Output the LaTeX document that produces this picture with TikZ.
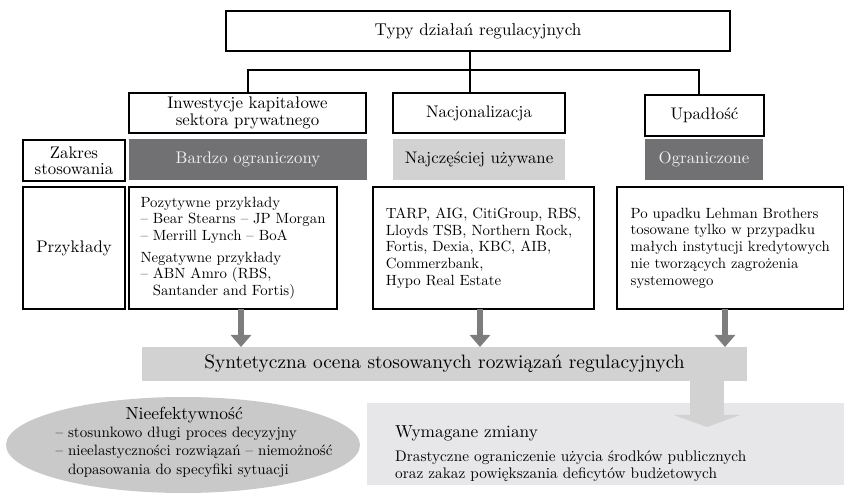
\documentclass[tikz,border=0pt]{standalone}
\usepackage{fontspec}
\setmainfont{lmroman10-regular.otf}
\usetikzlibrary{arrows.meta,shapes.geometric}
\definecolor{darkbox}{RGB}{113,113,116}
\definecolor{lightbox}{RGB}{210,210,210}
\definecolor{bandgray}{RGB}{210,210,210}
\definecolor{wymgray}{RGB}{231,231,233}
\definecolor{ellgray}{RGB}{201,201,201}
\definecolor{arrowgray}{RGB}{125,125,125}
\newcommand{\fsTitle}{\fontsize{17.1}{20}\selectfont}
\newcommand{\fsHead}{\fontsize{16.8}{19}\selectfont}
\newcommand{\fsText}{\fontsize{14.8}{16.7}\selectfont}
\newcommand{\fsEll}{\fontsize{15}{18.4}\selectfont}
\newcommand{\fsWym}{\fontsize{15.3}{17}\selectfont}
\newcommand{\fsBand}{\fontsize{19.4}{22}\selectfont}
\tikzset{
  box/.style={draw, line width=1.2pt, anchor=north west, inner sep=0pt, outer sep=0pt, align=center},
  tag/.style={anchor=north west, inner sep=0pt, outer sep=0pt, align=center, font=\fsHead},
  listbox/.style={box, align=left, font=\fsText},
  tree/.style={line width=1.2pt},
  smallarrow/.style={draw=arrowgray, line width=6pt, -{Triangle[width=20pt, length=12pt]}},
  bigarrow/.style={draw=bandgray, line width=34pt, -{Triangle[width=66pt, length=12pt]}}
}
\begin{document}
\begin{tikzpicture}[x=1pt, y=-1pt]
\useasboundingbox (0,0) rectangle (844,494);
% top and the three kinds
\node[box, minimum width=504pt, minimum height=40pt, font=\fsTitle] (typy) at (226,11) {Typy działań regulacyjnych};
\node[box, minimum width=237pt, minimum height=40pt, font=\fsHead] (inw) at (129,93) {Inwestycje kapitałowe\\[-2.5pt]sektora prywatnego};
\node[box, minimum width=172pt, minimum height=40pt, font=\fsHead] (nac) at (393,93) {Nacjonalizacja};
\node[box, minimum width=119pt, minimum height=41pt, font=\fsHead] (upa) at (645,95) {Upadłość};
\coordinate (busL) at (248,70);
\coordinate (busM) at (470,70);
\coordinate (busR) at (699,70);
\draw[tree] (typy.south -| busM) -- (nac.north -| busM);
\draw[tree] (inw.north -| busL) -- (busL) -- (busR) -- (upa.north -| busR);
% zakres stosowania
\node[box, minimum width=102pt, minimum height=41pt, font=\fsHead] (zakres) at (23,140) {Zakres\\[-3pt]stosowania};
\node[tag, fill=darkbox, text=white!94!black, minimum width=238pt, minimum height=41pt] (bardzo) at (129,139) {Bardzo ograniczony};
\node[tag, fill=lightbox, minimum width=172pt, minimum height=41pt] (najcz) at (393,139) {Najczęściej używane};
\node[tag, fill=darkbox, text=white!94!black, minimum width=118pt, minimum height=41pt] (ogr) at (645,139) {Ograniczone};
% przyklady
\node[box, minimum width=102pt, minimum height=122pt, font=\fsHead] (przyk) at (23,187) {Przykłady};
\node[listbox, minimum width=208pt, minimum height=122pt] (exInw) at (129,187)
  {Pozytywne przykłady\\
   – Bear Stearns – JP Morgan\\
   – Merrill Lynch – BoA\\[5pt]
   Negatywne przykłady\\
   – ABN Amro (RBS,\\
   \hphantom{– }Santander and Fortis)};
\node[listbox, minimum width=221pt, minimum height=122pt] (exNac) at (373,187)
  {TARP, AIG, CitiGroup, RBS,\\
   Lloyds TSB, Northern Rock,\\
   Fortis, Dexia, KBC, AIB,\\
   Commerzbank,\\
   Hypo Real Estate};
\node[listbox, minimum width=226.5pt, minimum height=122pt] (exUpa) at (617,187)
  {Po upadku Lehman Brothers\\
   tosowane tylko w przypadku\\
   małych instytucji kredytowych\\
   nie tworzących zagrożenia\\
   systemowego};
% ocena
\node[tag, fill=bandgray, minimum width=605pt, minimum height=34pt, font=\fsBand] (syn) at (142,347) {Syntetyczna ocena stosowanych rozwiązań regulacyjnych};
\coordinate (arL) at (241,0);
\coordinate (arM) at (480,0);
\coordinate (arR) at (725,0);
\draw[smallarrow] (exInw.south -| arL) -- (syn.north -| arL);
\draw[smallarrow] (exNac.south -| arM) -- (syn.north -| arM);
\draw[smallarrow] (exUpa.south -| arR) -- (syn.north -| arR);
% wnioski
\node[ellipse, fill=ellgray, minimum width=354pt, minimum height=96pt, inner sep=0pt] (nieef) at (183,445) {};
\node[align=left, inner sep=0pt, font=\fsEll] (nieefTxt) at (194,442)
  {\hspace*{70pt}{\fontsize{17.5}{19}\selectfont Nieefektywność}\\
   – stosunkowo długi proces decyzyjny\\
   – nieelastyczności rozwiązań – niemożność\\
   \hphantom{– }dopasowania do specyfiki sytuacji};
\node[tag, fill=wymgray, minimum width=477pt, minimum height=82pt] (wym) at (367,403) {};
\coordinate (arBig) at (707,0);
\coordinate (bigTip) at (707,427);
\draw[bigarrow] (syn.south -| arBig) -- (bigTip);
\node[anchor=north west, align=left, inner sep=0pt, font=\fsWym] (wymTxt) at (395,425)
  {{\fontsize{17.3}{19}\selectfont Wymagane zmiany}\\[7pt]
   Drastyczne ograniczenie użycia środków publicznych\\
   oraz zakaz powiększania deficytów budżetowych};
\end{tikzpicture}
\end{document}
